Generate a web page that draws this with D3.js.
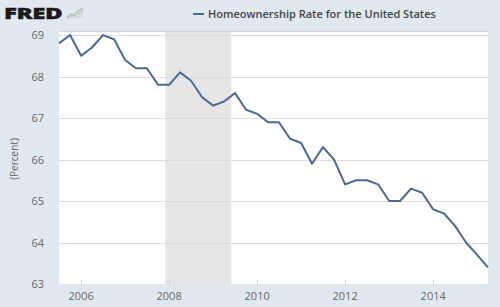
<!DOCTYPE html>
<html>
<head>
<meta charset="utf-8">
<script src="https://cdn.jsdelivr.net/npm/d3@7"></script>
<style>
  body { margin: 0; background: #e1e9f0; }
  text { font-family: "Open Sans", sans-serif; }
</style>
</head>
<body>
<svg id="chart" width="500" height="307"></svg>
<script>
// -------- data --------
// quarterly homeownership rate, percent (quarter start dates)
const dates = [
  "2005-07-01", "2005-10-01",
  "2006-01-01", "2006-04-01", "2006-07-01", "2006-10-01",
  "2007-01-01", "2007-04-01", "2007-07-01", "2007-10-01",
  "2008-01-01", "2008-04-01", "2008-07-01", "2008-10-01",
  "2009-01-01", "2009-04-01", "2009-07-01", "2009-10-01",
  "2010-01-01", "2010-04-01", "2010-07-01", "2010-10-01",
  "2011-01-01", "2011-04-01", "2011-07-01", "2011-10-01",
  "2012-01-01", "2012-04-01", "2012-07-01", "2012-10-01",
  "2013-01-01", "2013-04-01", "2013-07-01", "2013-10-01",
  "2014-01-01", "2014-04-01", "2014-07-01", "2014-10-01",
  "2015-01-01", "2015-04-01"
];
const rates = [
  68.8, 69.0,
  68.5, 68.7, 69.0, 68.9,
  68.4, 68.2, 68.2, 67.8,
  67.8, 68.1, 67.9, 67.5,
  67.3, 67.4, 67.6, 67.2,
  67.1, 66.9, 66.9, 66.5,
  66.4, 65.9, 66.3, 66.0,
  65.4, 65.5, 65.5, 65.4,
  65.0, 65.0, 65.3, 65.2,
  64.8, 64.7, 64.4, 64.0,
  63.7, 63.4
];
const recession = ["2007-12-01", "2009-06-01"];
const yTicks = [63, 64, 65, 66, 67, 68, 69];
const xTicks = ["2006-01-01", "2008-01-01", "2010-01-01", "2012-01-01", "2014-01-01"];
const seriesName = "Homeownership Rate for the United States";
const yTitle = "(Percent)";

// -------- setup --------
const svg = d3.select("#chart");
const parse = d3.timeParse("%Y-%m-%d");
const margin = { top: 33, right: 12, bottom: 22, left: 59 };
const width = 500, height = 307;

const data = dates.map((d, i) => ({ date: parse(d), value: rates[i] }));

const x = d3.scaleTime()
  .domain(d3.extent(data, d => d.date))
  .range([margin.left, width - margin.right]);

const y = d3.scaleLinear()
  .domain([63, 69.05])
  .range([height - margin.bottom - 1, margin.top]);

// background
svg.append("rect")
  .attr("width", width).attr("height", height)
  .attr("fill", "#e1e9f0");

// plot area
svg.append("rect")
  .attr("x", margin.left)
  .attr("y", margin.top - 1)
  .attr("width", width - margin.left - margin.right)
  .attr("height", height - margin.top - margin.bottom)
  .attr("fill", "#ffffff");
svg.append("line")
  .attr("x1", margin.left).attr("x2", width - margin.right)
  .attr("y1", margin.top - 1.5).attr("y2", margin.top - 1.5)
  .attr("stroke", "#cfd6dd");

// recession shading
svg.append("rect")
  .attr("x", x(parse(recession[0])))
  .attr("y", margin.top - 1)
  .attr("width", x(parse(recession[1])) - x(parse(recession[0])))
  .attr("height", height - margin.top - margin.bottom)
  .attr("fill", "#e6e6e6");

// gridlines
svg.append("g")
  .selectAll("line")
  .data(yTicks.slice(1))
  .join("line")
  .attr("x1", margin.left).attr("x2", width - margin.right)
  .attr("y1", d => Math.round(y(d)) + 0.5).attr("y2", d => Math.round(y(d)) + 0.5)
  .attr("stroke", "#dcdcdc")
  .attr("stroke-width", 1);

// y labels
svg.append("g")
  .selectAll("text")
  .data(yTicks)
  .join("text")
  .attr("x", 44)
  .attr("y", d => y(d) + 4)
  .attr("text-anchor", "end")
  .attr("font-size", 11)
  .attr("fill", "#666666")
  .text(d => d);

svg.append("text")
  .attr("transform", `translate(18,${(margin.top + height - margin.bottom) / 2}) rotate(-90)`)
  .attr("text-anchor", "middle")
  .attr("font-size", 10)
  .attr("fill", "#666666")
  .text(yTitle);

// x axis ticks and labels
const xAxis = svg.append("g");
xAxis.selectAll("line")
  .data(xTicks)
  .join("line")
  .attr("x1", d => Math.round(x(parse(d))) + 0.5)
  .attr("x2", d => Math.round(x(parse(d))) + 0.5)
  .attr("y1", height - margin.bottom - 5)
  .attr("y2", height - margin.bottom)
  .attr("stroke", "#d0d0d0");
xAxis.selectAll("text")
  .data(xTicks)
  .join("text")
  .attr("x", d => x(parse(d)))
  .attr("y", 300)
  .attr("text-anchor", "middle")
  .attr("font-size", 11)
  .attr("fill", "#666666")
  .text(d => d.slice(0, 4));

// series line
const line = d3.line()
  .x(d => x(d.date))
  .y(d => y(d.value));

svg.append("path")
  .datum(data)
  .attr("d", line)
  .attr("fill", "none")
  .attr("stroke", "#4a6a90")
  .attr("stroke-width", 2)
  .attr("stroke-linejoin", "round");

// legend
svg.append("line")
  .attr("x1", 193).attr("x2", 204)
  .attr("y1", 14).attr("y2", 14)
  .attr("stroke", "#4a6a90")
  .attr("stroke-width", 2);
svg.append("text")
  .attr("x", 208)
  .attr("y", 18)
  .attr("font-size", 11)
  .attr("font-weight", 600)
  .attr("fill", "#444444")
  .text(seriesName);

// FRED logo - wide heavy wordmark (stretched horizontally)
svg.append("g")
  .attr("transform", "translate(4,18.5) scale(1.5,1)")
  .append("text")
  .attr("font-family", "'DejaVu Sans', sans-serif")
  .attr("font-size", 16)
  .attr("font-weight", 900)
  .attr("letter-spacing", -0.3)
  .attr("stroke", "#1a1a1a")
  .attr("stroke-width", 0.4)
  .attr("fill", "#1a1a1a")
  .text("FRED");
const logo = svg.append("g").attr("transform", "translate(67,7)");
logo.append("polyline")
  .attr("points", "0,11 4,7 7,9 11,4 16,1")
  .attr("fill", "none").attr("stroke", "#a9bca6").attr("stroke-width", 1.3);
logo.append("polyline")
  .attr("points", "0,11 4,10 8,6 12,7 16,3")
  .attr("fill", "none").attr("stroke", "#bccbd3").attr("stroke-width", 1.1);
logo.selectAll("rect")
  .data([2, 5, 8, 11, 14])
  .join("rect")
  .attr("x", d => d).attr("y", (d, i) => 10 - i * 1.5)
  .attr("width", 1.5).attr("height", (d, i) => 1 + i * 1.5)
  .attr("fill", "#c7d3cf");
</script>
</body>
</html>
